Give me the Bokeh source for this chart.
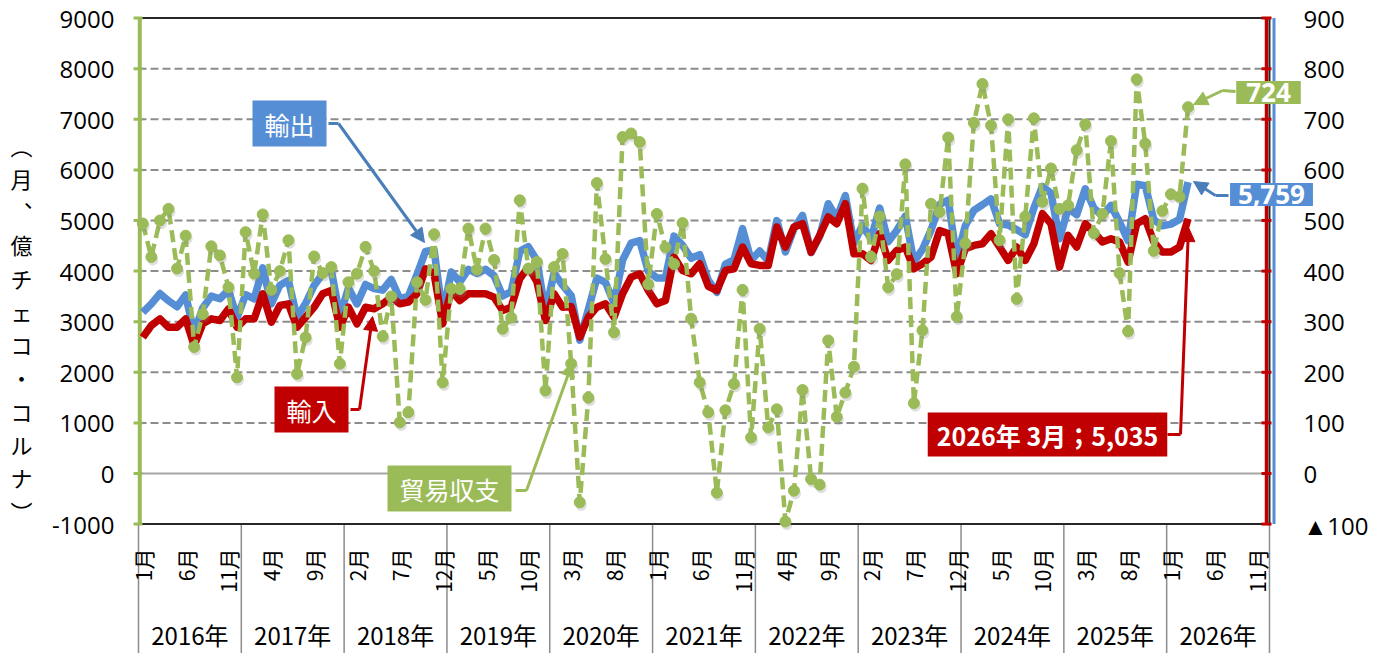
from math import pi
from bokeh.plotting import figure
from bokeh.models import Range1d, Label, Arrow, NormalHead
from bokeh.core.properties import value
from bokeh.embed import file_html
from bokeh.resources import INLINE

# ---------------- data (億チェコ・コルナ, monthly from 2016-01) ----------------
exports = [3184, 3352, 3556, 3414, 3296, 3526, 2778, 3272, 3505, 3454, 3622, 3081,
           3533, 3451, 4063, 3353, 3720, 3814, 3088, 3358, 3716, 3947, 4025, 3108,
           3665, 3352, 3735, 3654, 3624, 3835, 3454, 3507, 3929, 4389, 4420, 3137,
           3982, 3784, 4035, 3954, 4035, 3907, 3507, 3595, 4390, 4484, 4211, 3187,
           3959, 3721, 3517, 2636, 3239, 3861, 3777, 3368, 4216, 4553, 4602, 3991,
           3866, 3866, 4691, 4508, 4253, 4325, 3821, 3579, 4138, 4223, 4838, 4216,
           4398, 4203, 4998, 4380, 4837, 5102, 4365, 4684, 5332, 5049, 5493, 4554,
           4906, 4639, 5247, 4579, 4803, 5086, 4185, 4428, 4810, 5317, 5404, 4257,
           4897, 5201, 5311, 5427, 4936, 4911, 4820, 4719, 5243, 5672, 5540, 4640,
           5236, 5114, 5627, 5247, 5087, 5297, 4970, 4600, 5716, 5688, 5014, 4895,
           4928, 5022, 5759]
imports = [2690, 2924, 3056, 2891, 2891, 3056, 2528, 2957, 3056, 3023, 3254, 2891,
           3056, 3056, 3551, 2990, 3320, 3353, 2891, 3089, 3287, 3551, 3617, 2891,
           3287, 2957, 3287, 3254, 3353, 3485, 3353, 3386, 3551, 4046, 3947, 2957,
           3617, 3419, 3551, 3551, 3551, 3485, 3221, 3287, 3850, 4079, 3793, 3023,
           3551, 3287, 3300, 2693, 3089, 3287, 3353, 3089, 3551, 3881, 3947, 3617,
           3353, 3419, 4277, 4013, 3947, 4145, 3700, 3617, 4013, 4046, 4475, 4145,
           4112, 4112, 4871, 4475, 4871, 4937, 4376, 4706, 5069, 4937, 5333, 4343,
           4343, 4211, 4739, 4211, 4409, 4475, 4046, 4145, 4277, 4800, 4740, 3947,
           4442, 4508, 4541, 4739, 4475, 4211, 4475, 4211, 4541, 5135, 4937, 4079,
           4706, 4475, 4937, 4772, 4574, 4640, 4574, 4178, 4937, 5036, 4574, 4376,
           4376, 4475, 5035]
balance = [494, 428, 500, 523, 405, 470, 250, 315, 449, 431, 368, 190,
           477, 395, 512, 363, 400, 461, 197, 269, 429, 396, 408, 217,
           378, 395, 448, 400, 271, 350, 101, 121, 378, 343, 473, 180,
           365, 365, 484, 403, 484, 422, 286, 308, 540, 405, 418, 164,
           408, 434, 217, -57, 150, 574, 424, 279, 665, 672, 655, 374,
           513, 447, 414, 495, 306, 180, 121, -38, 125, 177, 363, 71,
           286, 91, 127, -95, -34, 165, -11, -22, 263, 112, 160, 211,
           563, 428, 508, 368, 394, 611, 139, 283, 533, 517, 664, 310,
           455, 693, 770, 688, 461, 700, 345, 508, 702, 537, 603, 523,
           530, 639, 690, 475, 513, 657, 396, 281, 779, 652, 440, 519,
           552, 547, 724]

year_labels = ["2016年", "2017年", "2018年", "2019年", "2020年", "2021年",
               "2022年", "2023年", "2024年", "2025年", "2026年"]
month_label_pos = [0, 5, 10, 15, 20, 25, 30, 35, 40, 45, 50, 55, 60, 65, 70,
                   75, 80, 85, 90, 95, 100, 105, 110, 115, 120, 125, 130]
month_labels = ["1月", "6月", "11月", "4月", "9月", "2月", "7月", "12月", "5月",
                "10月", "3月", "8月", "1月", "6月", "11月", "4月", "9月", "2月",
                "7月", "12月", "5月", "10月", "3月", "8月", "1月", "6月", "11月"]
left_ticks = [-1000, 0, 1000, 2000, 3000, 4000, 5000, 6000, 7000, 8000, 9000]
left_tick_labels = ["-1000", "0", "1000", "2000", "3000", "4000", "5000",
                    "6000", "7000", "8000", "9000"]
right_ticks = [-100, 0, 100, 200, 300, 400, 500, 600, 700, 800, 900]
right_tick_labels = ["▲100", "0", "100", "200", "300", "400", "500", "600",
                     "700", "800", "900"]
y_axis_title = "︵\n月\n︑\n億\nチ\nェ\nコ\n・\nコ\nル\nナ\n︶"

# ---------------- geometry (figure pixels) ----------------
FIG_W, FIG_H = 1386, 653
X0, PXM = 138.0, 8.568      # x of month-0 edge, px per month
Y0, PXU = 473.0, 0.0506     # y of value 0, px per unit
N_MONTHS = 132
RIGHT_SCALE = 10.0          # left units per right-axis unit


def dx(sx):
    return (sx - X0) / PXM


def dy(sy):
    return (Y0 - sy) / PXU


BLUE = "#558ED5"
BLUE_D = "#4A7EBB"
RED = "#C00000"
GREEN = "#9BBB59"
GRID = "#8C8C8C"
NUM_FONT = "Open Sans"
JP_FONT = "Noto Sans CJK JP"

p = figure(width=FIG_W, height=FIG_H,
           x_range=Range1d(dx(0), dx(FIG_W)),
           y_range=Range1d(dy(FIG_H), dy(0)),
           output_backend="svg", toolbar_location=None,
           x_axis_location=None, y_axis_location=None,
           min_border_left=0, min_border_right=0, min_border_top=0, min_border_bottom=0)
p.outline_line_color = None
p.grid.visible = False
p.background_fill_color = "white"
p.extra_y_ranges = {"right": Range1d(dy(FIG_H) / RIGHT_SCALE, dy(0) / RIGHT_SCALE)}

top_v, bot_v = left_ticks[-1], left_ticks[0]
grid_vals = [t for t in left_ticks if t not in (top_v, bot_v, 0)]
nt = len(left_ticks)

# gridlines
p.segment(x0=[0] * len(grid_vals), x1=[N_MONTHS] * len(grid_vals), y0=grid_vals, y1=grid_vals,
          line_color=GRID, line_width=2, line_dash="8 4")
p.segment(x0=[0], x1=[N_MONTHS], y0=[0], y1=[0], line_color="#A6A6A6", line_width=2)

# year separators below the plot area
sep_x = [12 * k for k in range(len(year_labels) + 1)]
p.segment(x0=sep_x, x1=sep_x, y0=[bot_v] * len(sep_x), y1=[dy(FIG_H)] * len(sep_x),
          line_color=GRID, line_width=1.5)

# plot-area border
p.segment(x0=[0, 0], x1=[N_MONTHS, N_MONTHS], y0=[top_v, bot_v], y1=[top_v, bot_v],
          line_color="#262626", line_width=2)
p.segment(x0=[N_MONTHS], x1=[N_MONTHS], y0=[bot_v], y1=[top_v], line_color="#262626", line_width=2)

# left green axis line and ticks
p.segment(x0=[0.15], x1=[0.15], y0=[bot_v], y1=[top_v], line_color=GREEN, line_width=4)
p.segment(x0=[dx(133)] * nt, x1=[dx(142)] * nt, y0=left_ticks, y1=left_ticks,
          line_color=GREEN, line_width=3)

# right red axis line with ticks, blue line
xr = dx(1266)
p.segment(x0=[xr], x1=[xr], y0=[bot_v], y1=[top_v], line_color=RED, line_width=3.5)
p.segment(x0=[dx(1261)] * nt, x1=[dx(1271)] * nt, y0=left_ticks, y1=left_ticks,
          line_color=RED, line_width=3)
p.segment(x0=[dx(1273.5)], x1=[dx(1273.5)], y0=[bot_v], y1=[top_v], line_color=BLUE, line_width=3)

# axis tick labels
p.text(x=[dx(114)] * nt, y=left_ticks, text=left_tick_labels,
       text_align="right", text_baseline="middle", y_offset=1,
       text_font=value(NUM_FONT), text_font_size="24px", text_color="black")
p.text(x=[dx(1303)] * len(right_ticks), y=right_ticks, text=right_tick_labels,
       y_range_name="right", text_align="left", text_baseline="middle", y_offset=1,
       text_font=value(NUM_FONT), text_font_size="24px", text_color="black")

# month and year labels
p.text(x=[m + 0.5 for m in month_label_pos], y=[dy(548)] * len(month_label_pos), text=month_labels,
       angle=pi / 2, text_align="right", text_baseline="middle",
       text_font=value(JP_FONT), text_font_size="21px", text_color="black")
p.text(x=[12 * k + 6 for k in range(len(year_labels))], y=[dy(634)] * len(year_labels), text=year_labels,
       text_align="center", text_baseline="middle",
       text_font=value(JP_FONT), text_font_size="24px", text_color="black")

# y-axis title (vertical writing)
p.text(x=[dx(21)], y=[dy(128)], text=[y_axis_title], text_align="center", text_baseline="top",
       text_font=value(JP_FONT), text_font_size="22px", text_color="black", text_line_height=1.04)

# series
xs = [i + 0.5 for i in range(len(exports))]
p.line(xs, exports, line_color=BLUE, line_width=7.5, line_join="round")
p.line(xs, imports, line_color=RED, line_width=7.5, line_join="round")
xb = [i + 0.5 for i in range(len(balance))]
p.line(xb, balance, y_range_name="right", line_color=GREEN, line_width=4.5, line_dash="12 6")
# soft marker shadow (shifted 1.5px right, 3px down), then markers
sh_x = [v + 1.5 / PXM for v in xb]
sh_y = [v - 3.0 / (PXU * RIGHT_SCALE) for v in balance]
p.scatter(sh_x, sh_y, y_range_name="right", size=11, marker="circle",
          fill_color="#7F7F7F", fill_alpha=0.25, line_color=None)
p.scatter(xb, balance, y_range_name="right", size=11, marker="circle",
          fill_color=GREEN, line_color=GREEN)


# callouts
def callout(cx, cy, text, color, size, font, bold, pad_h, pad_v):
    p.add_layout(Label(x=dx(cx), y=dy(cy), text=text, text_align="center", text_baseline="middle",
                       text_font=font, text_font_size=size, text_color="white",
                       text_font_style="bold" if bold else "normal",
                       background_fill_color=color, background_fill_alpha=1.0,
                       padding=dict(left=pad_h, right=pad_h, top=pad_v, bottom=pad_v)))


def leader(points, color, width=3):
    pts = points[:-1]
    p.line([dx(a) for a, b in pts], [dy(b) for a, b in pts], line_color=color, line_width=width)
    (x1, y1), (x2, y2) = points[-2], points[-1]
    p.add_layout(Arrow(x_start=dx(x1), y_start=dy(y1), x_end=dx(x2), y_end=dy(y2),
                       line_color=color, line_width=width,
                       end=NormalHead(size=14, fill_color=color, line_color=color)))


callout(289, 123, "輸出", BLUE, "25px", JP_FONT, False, 12, 5)
leader([(328, 123), (338, 123), (424, 242)], BLUE_D)
callout(311, 409, "輸入", RED, "25px", JP_FONT, False, 12, 5)
leader([(350, 409), (359, 409), (372, 316)], RED)
callout(449, 488, "貿易収支", GREEN, "25px", JP_FONT, False, 12, 5)
leader([(515, 490), (526, 490), (572, 362)], GREEN)
callout(1047, 434, "2026年 3月；5,035", RED, "25px", JP_FONT, True, 9, 4)
leader([(1167, 434), (1180, 434), (1188, 227)], RED)
callout(1271, 194, "5,759", BLUE, "26px", NUM_FONT, True, 8, 2)
leader([(1228, 195), (1215, 195), (1193, 181)], BLUE_D)
callout(1268, 92, "724", GREEN, "26px", NUM_FONT, True, 10, 2)
leader([(1235, 91), (1222, 90), (1193, 104)], GREEN)

open("out.html", "w").write(file_html(p, INLINE))
